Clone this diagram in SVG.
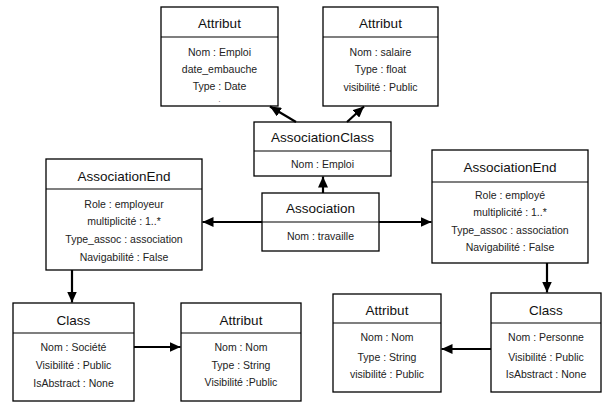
<svg xmlns="http://www.w3.org/2000/svg" width="611" height="403" viewBox="0 0 611 403">
<defs>
<marker id="arr" markerUnits="userSpaceOnUse" markerWidth="12" markerHeight="10" refX="11" refY="5" orient="auto">
<path d="M0,0 L11,5 L0,10 Z" fill="#000"/>
</marker>
<style>
.box{fill:#fff;stroke:#000;stroke-width:1.3}
.sep{stroke:#000;stroke-width:1.2}
.t{font-family:"Liberation Sans",Arial,sans-serif;font-size:13.5px;fill:#111;text-anchor:middle;dominant-baseline:central}
.b{font-family:"Liberation Sans",Arial,sans-serif;font-size:10.5px;fill:#222;text-anchor:middle;dominant-baseline:central}
.d{font-family:"Liberation Sans",Arial,sans-serif;font-size:7px;fill:#222;text-anchor:middle;dominant-baseline:central}
.c{stroke:#000;stroke-width:2.2;fill:none;marker-end:url(#arr)}
</style>
</defs>
<rect width="611" height="403" fill="#fff"/>

<g id="attribut-emploi">
<rect class="box" x="161" y="7" width="117" height="99"/>
<line class="sep" x1="161" y1="37" x2="278" y2="37"/>
<text class="t" x="219.5" y="23">Attribut</text>
<text class="b" x="219.5" y="52">Nom : Emploi</text>
<text class="b" x="219.5" y="69">date_embauche</text>
<text class="b" x="219.5" y="86">Type : Date</text>
<text class="d" x="219.5" y="99">.</text>
</g>

<g id="attribut-salaire">
<rect class="box" x="323" y="7" width="115" height="99"/>
<line class="sep" x1="323" y1="37" x2="438" y2="37"/>
<text class="t" x="380.5" y="23">Attribut</text>
<text class="b" x="380.5" y="52">Nom : salaire</text>
<text class="b" x="380.5" y="69">Type : float</text>
<text class="b" x="380.5" y="87">visibilité : Public</text>
</g>

<g id="association-class">
<rect class="box" x="254" y="122" width="137" height="54"/>
<line class="sep" x1="254" y1="151" x2="391" y2="151"/>
<text class="t" x="322.5" y="137">AssociationClass</text>
<text class="b" x="322.5" y="164">Nom : Emploi</text>
</g>

<g id="association">
<rect class="box" x="262" y="193" width="117" height="58"/>
<line class="sep" x1="262" y1="222" x2="379" y2="222"/>
<text class="t" x="320.5" y="208">Association</text>
<text class="b" x="320.5" y="236">Nom : travaille</text>
</g>

<g id="association-end-employeur">
<rect class="box" x="46" y="159" width="156" height="111"/>
<line class="sep" x1="46" y1="189" x2="202" y2="189"/>
<text class="t" x="124" y="176">AssociationEnd</text>
<text class="b" x="124" y="204">Role : employeur</text>
<text class="b" x="124" y="221">multiplicité : 1..*</text>
<text class="b" x="124" y="239">Type_assoc : association</text>
<text class="b" x="124" y="257">Navigabilité : False</text>
</g>

<g id="association-end-employe">
<rect class="box" x="432" y="150" width="156" height="113"/>
<line class="sep" x1="432" y1="182" x2="588" y2="182"/>
<text class="t" x="510" y="167">AssociationEnd</text>
<text class="b" x="510" y="195">Role : employé</text>
<text class="b" x="510" y="212">multiplicité : 1..*</text>
<text class="b" x="510" y="230">Type_assoc : association</text>
<text class="b" x="510" y="247">Navigabilité : False</text>
</g>

<g id="class-societe">
<rect class="box" x="13" y="303" width="121" height="98"/>
<line class="sep" x1="13" y1="333" x2="134" y2="333"/>
<text class="t" x="73.5" y="320">Class</text>
<text class="b" x="73.5" y="347">Nom : Société</text>
<text class="b" x="73.5" y="365">Visibilité : Public</text>
<text class="b" x="73.5" y="383">IsAbstract : None</text>
</g>

<g id="attribut-nom-societe">
<rect class="box" x="181" y="303" width="120" height="98"/>
<line class="sep" x1="181" y1="333" x2="301" y2="333"/>
<text class="t" x="241" y="320">Attribut</text>
<text class="b" x="241" y="347">Nom : Nom</text>
<text class="b" x="241" y="365">Type : String</text>
<text class="b" x="241" y="382">Visibilité :Public</text>
</g>

<g id="attribut-nom-personne">
<rect class="box" x="333" y="294" width="108" height="98"/>
<line class="sep" x1="333" y1="323" x2="441" y2="323"/>
<text class="t" x="387" y="310">Attribut</text>
<text class="b" x="387" y="337">Nom : Nom</text>
<text class="b" x="387" y="357">Type : String</text>
<text class="b" x="387" y="374">visibilité : Public</text>
</g>

<g id="class-personne">
<rect class="box" x="491" y="293" width="110" height="99"/>
<line class="sep" x1="491" y1="323" x2="601" y2="323"/>
<text class="t" x="546" y="310">Class</text>
<text class="b" x="546" y="337">Nom : Personne</text>
<text class="b" x="546" y="357">Visibilité : Public</text>
<text class="b" x="546" y="374">IsAbstract : None</text>
</g>

<g id="connectors">
<line class="c" x1="296" y1="122" x2="270" y2="106.5"/>
<line class="c" x1="347" y1="122" x2="364" y2="106.5"/>
<line class="c" x1="323" y1="193" x2="323" y2="176.5"/>
<line class="c" x1="262" y1="222" x2="202.5" y2="222"/>
<line class="c" x1="379" y1="222" x2="431.5" y2="222"/>
<line class="c" x1="72" y1="270" x2="72" y2="302.5"/>
<line class="c" x1="547" y1="263" x2="547" y2="292.5"/>
<line class="c" x1="134" y1="347" x2="180.5" y2="347"/>
<line class="c" x1="491" y1="349" x2="441.5" y2="349"/>
</g>
</svg>
